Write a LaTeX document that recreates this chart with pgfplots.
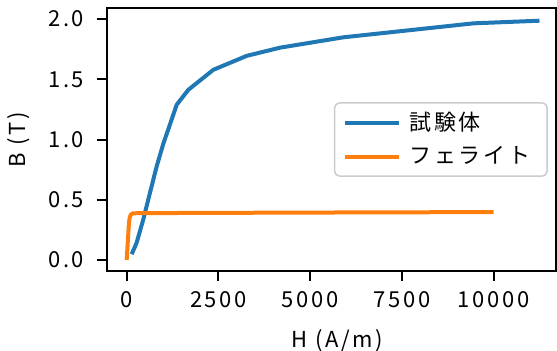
\documentclass[border=0pt]{standalone}
\usepackage{fontspec}
\setmainfont{Noto Sans CJK JP}[LetterSpace=12]
\usepackage{pgfplots}
\pgfplotsset{compat=1.18}
\definecolor{mblue}{HTML}{1F77B4}
\definecolor{morange}{HTML}{FF7F0E}
\begin{document}
\fontsize{22bp}{26bp}\selectfont
\begin{tikzpicture}
\begin{axis}[
  scale only axis, width=449.3bp, height=262.4bp,
  at={(0,0)}, anchor=south west,
  xmin=-545, xmax=11700, ymin=-0.09, ymax=2.09,
  axis line style={line width=2.2bp, black},
  scaled x ticks=false, scaled y ticks=false,
  xtick={0,2500,5000,7500,10000}, xticklabels={0,2500,5000,7500,10000},
  ytick={0,0.5,1,1.5,2}, yticklabels={0.0,0.5,1.0,1.5,2.0},
  xtick pos=left, ytick pos=left,
  tick align=outside, major tick length=10bp,
  tick style={line width=2bp, black},
  tick label style={font=\fontsize{22bp}{26bp}\selectfont},
  xticklabel style={yshift=-3bp},
  yticklabel style={xshift=-5bp},
  label style={font=\fontsize{22bp}{26bp}\selectfont},
  xlabel={H (A/m)}, ylabel={B (T)},
  xlabel style={yshift=-7bp, xshift=6bp},
  ylabel style={yshift=4bp},
  legend style={at={(0.982,0.5)}, anchor=east, draw=black!20, line width=1.5bp,
    rounded corners=5bp, font=\fontsize{22bp}{26bp}\selectfont,
    inner xsep=8bp, inner ysep=7bp, row sep=9bp,
    nodes={inner xsep=9bp}},
  legend cell align=left,
  legend image code/.code={\draw[#1] (0bp,0bp) -- (54bp,0bp);},
]
\addplot[mblue, line width=4bp, line join=round] coordinates {
(136,0.047) (273,0.144) (453,0.337) (635,0.558) (818,0.778) (998,0.965)
(1162,1.11) (1363,1.289) (1680,1.413) (2361,1.579) (3272,1.695) (4180,1.763)
(5905,1.849) (9450,1.965) (11250,1.987)};
\addlegendentry{試験体}
\addplot[morange, line width=4bp, line join=round] coordinates {
(0,0.0) (20,0.1) (40,0.2) (60,0.3) (80,0.35) (110,0.375) (160,0.386)
(300,0.388) (1000,0.389) (5000,0.393) (10000,0.397)};
\addlegendentry{フェライト}
\end{axis}
\pgfresetboundingbox
\path[use as bounding box] (-106.7bp,-80.3bp) rectangle (450.3bp,270.7bp);
\end{tikzpicture}
\end{document}
